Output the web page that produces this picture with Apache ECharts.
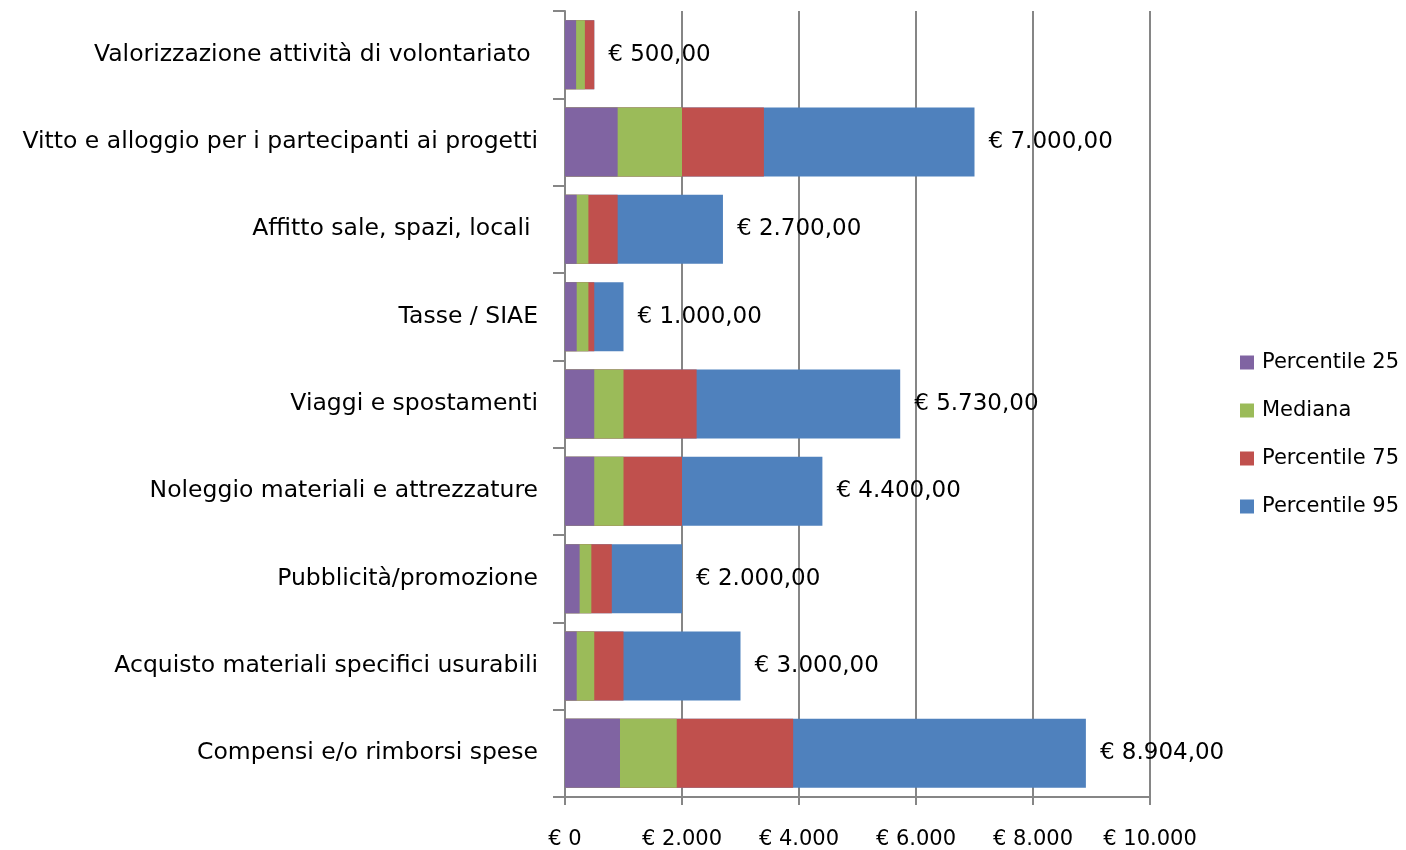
<!DOCTYPE html>
<html>
<head>
<meta charset="utf-8">
<script src="https://cdn.jsdelivr.net/npm/echarts@6/dist/echarts.min.js"></script>
<style>
  html, body { margin: 0; padding: 0; background: #fff; }
  #chart { width: 1406px; height: 850px; }
</style>
</head>
<body>
<div id="chart"></div>
<script>
// voci di spesa, dall'alto verso il basso
var categories = [
    'Valorizzazione attività di volontariato ',
    'Vitto e alloggio per i partecipanti ai progetti',
    'Affitto sale, spazi, locali ',
    'Tasse / SIAE',
    'Viaggi e spostamenti',
    'Noleggio materiali e attrezzature',
    'Pubblicità/promozione',
    'Acquisto materiali specifici usurabili',
    'Compensi e/o rimborsi spese'
];
var p25 = [190, 900, 200, 200, 500, 500, 250, 200, 940];
var mediana = [340, 2000, 400, 400, 1000, 1000, 450, 500, 1910];
var p75 = [500, 3400, 900, 500, 2250, 2000, 800, 1000, 3900];
var p95 = [500, 7000, 2700, 1000, 5730, 4400, 2000, 3000, 8904];
var xTicks = [0, 2000, 4000, 6000, 8000, 10000];

var fontFam = '"DejaVu Sans", sans-serif';

function euro(v, dec) {
    var s = String(Math.round(v)).replace(/\B(?=(\d{3})+(?!\d))/g, '.');
    return '€ ' + s + (dec ? ',00' : '');
}

var myChart = echarts.init(document.getElementById('chart'));
var option = {
    animation: false,
    color: ['#4F81BD', '#C0504D', '#9BBB59', '#8064A2'],
    grid: {
        left: 565,
        right: 256,
        top: 11,
        bottom: 53
    },
    legend: {
        data: ['Percentile 25', 'Mediana', 'Percentile 75', 'Percentile 95'],
        orient: 'vertical',
        left: 1235,
        top: 347,
        icon: 'rect',
        itemWidth: 14,
        itemHeight: 14,
        itemGap: 27,
        textStyle: {
            fontFamily: fontFam,
            fontSize: 21,
            color: '#000',
            padding: [0, 0, 0, 3]
        }
    },
    xAxis: {
        type: 'value',
        min: xTicks[0],
        max: xTicks[xTicks.length - 1],
        interval: 2000,
        axisLine: {
            show: true,
            lineStyle: { color: '#868686', width: 2 }
        },
        axisTick: {
            show: true,
            length: 8,
            lineStyle: { color: '#868686', width: 2 }
        },
        splitLine: {
            show: true,
            lineStyle: { color: '#868686', width: 2 }
        },
        axisLabel: {
            margin: 32,
            fontFamily: fontFam,
            fontSize: 21,
            color: '#000',
            formatter: function (v) { return euro(v, false); }
        }
    },
    yAxis: {
        type: 'category',
        inverse: true,
        data: categories,
        axisLine: {
            show: true,
            lineStyle: { color: '#868686', width: 2 }
        },
        axisTick: {
            show: true,
            length: 12,
            lineStyle: { color: '#868686', width: 2 }
        },
        axisLabel: {
            margin: 27,
            fontFamily: fontFam,
            fontSize: 23.5,
            color: '#000'
        }
    },
    series: [{
            name: 'Percentile 95',
            type: 'bar',
            barWidth: 69,
            barGap: '-100%',
            data: p95,
            label: {
                show: true,
                position: 'right',
                distance: 14,
                fontFamily: fontFam,
                fontSize: 23,
                color: '#000',
                formatter: function (p) { return euro(p.value, true); }
            }
        },
        {
            name: 'Percentile 75',
            type: 'bar',
            barWidth: 69,
            barGap: '-100%',
            data: p75
        },
        {
            name: 'Mediana',
            type: 'bar',
            barWidth: 69,
            barGap: '-100%',
            data: mediana
        },
        {
            name: 'Percentile 25',
            type: 'bar',
            barWidth: 69,
            barGap: '-100%',
            data: p25
        }
    ]
};
myChart.setOption(option);
</script>
</body>
</html>
